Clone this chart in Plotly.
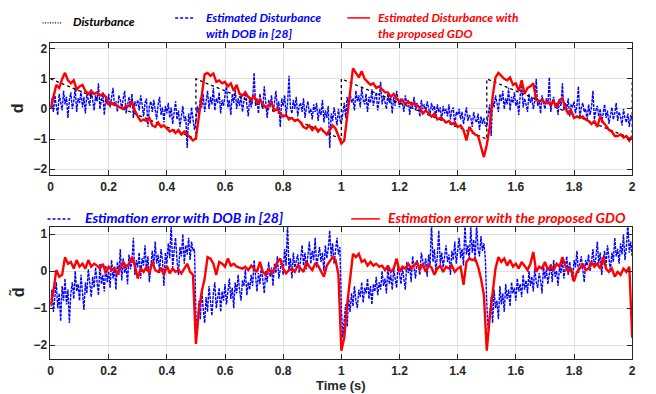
import plotly.graph_objects as go

# ---------------- data ----------------
dist_t = [0, 0.5, 0.5, 1.0, 1.0, 1.5, 1.5, 2.0, 2.0]
dist_v = [1, -1, 1, -1, 1, -1, 1, -1, 1]

# proposed GDO estimate (step 0.01 s)
gdo_est = [
    0.0, 0.4, 0.8, 0.7, 1.0, 1.2, 0.95, 0.85, 0.95, 0.65, 0.75, 0.8, 0.6, 0.5, 0.6, 0.5, 0.55, 0.45, 0.5, 0.4,
    0.15, 0.2, 0.15, 0.1, 0.05, 0.0, 0.1, 0.1, 0.25, -0.05, -0.25, -0.4, -0.35, -0.4, -0.3, -0.55, -0.6, -0.45, -0.6, -0.55,
    -0.65, -0.75, -0.7, -0.8, -0.7, -0.85, -0.75, -0.85, -0.92, -1.05,
    -0.98, -0.25, 0.5, 1.15, 1.2, 1.1, 1.18, 0.9, 0.95, 0.85, 0.9, 0.75, 0.85, 0.6, 0.8, 0.5, 0.45, 0.55, 0.4, 0.3,
    0.45, 0.2, 0.3, 0.15, 0.05, 0.1, 0.2, -0.05, 0.0, -0.15, -0.25, -0.2, -0.35, -0.3, -0.4, -0.35, -0.45, -0.6, -0.65, -0.55,
    -0.7, -0.6, -0.75, -0.65, -0.75, -0.85, -0.7, -0.55, -0.65, -0.9,
    -1.15, -1.05, -0.25, 0.5, 1.35, 1.2, 1.05, 1.25, 1.0, 0.9, 0.8, 0.85, 0.7, 0.75, 0.65, 0.55, 0.55, 0.4, 0.5, 0.35,
    0.25, 0.3, 0.15, 0.25, 0.15, 0.2, 0.1, 0.05, -0.15, -0.05, -0.15, -0.25, -0.15, -0.35, -0.3, -0.35, -0.45, -0.4, -0.5, -0.45,
    -0.6, -0.55, -0.7, -1.05, -0.6, -0.75, -0.85, -0.9, -1.25, -1.6,
    -1.2, -0.6, 0.4, 1.05, 1.2, 1.1, 1.0, 0.95, 1.05, 0.8, 0.85, 0.6, 0.95, 0.5, 0.7, 0.75, 0.85, 0.3, 0.25, 0.3,
    0.2, 0.25, 0.15, 0.25, 0.05, 0.3, 0.35, 0.05, -0.15, -0.05, -0.3, -0.25, -0.3, -0.25, -0.35, -0.4, -0.5, -0.4, -0.6, -0.25,
    -0.45, -0.55, -0.7, -0.75, -0.9, -0.9, -0.85, -0.95, -0.9, -1.05,
    -0.9,
]

# proposed GDO estimation error (step 0.01 s)
gdo_err = [
    -0.95, -0.55, 0.03, -0.15, -0.1, 0.38, 0.2, 0.25, 0.07, 0.3, 0.12, 0.2, 0.07, 0.3, 0.12, 0.2, 0.15, 0.07, 0.2, -0.06,
    0.12, 0.03, 0.09, -0.1, 0.07, 0.25, 0.12, 0.2, 0.38, 0.15, -0.2, 0.07, -0.02, 0.12, -0.06, 0.25, 0.03, -0.02, 0.07, -0.1,
    0.15, -0.06, 0.07, -0.02, 0.03, -0.06, 0.07, 0.2, -0.02, -0.1,
    -1.97, -1.08, -0.55, -0.2, 0.38, 0.34, 0.2, -0.1, 0.25, 0.2, 0.12, 0.34, 0.15, 0.2, 0.12, 0.1, 0.07, 0.12, 0.03, 0.15,
    0.07, -0.02, 0.25, -0.02, -0.1, 0.07, -0.06, 0.07, 0.25, 0.34, 0.07, -0.06, 0.03, 0.07, -0.02, 0.15, 0.07, -0.02, 0.25, 0.12,
    0.03, 0.2, 0.15, -0.02, -0.15, 0.15, 0.25, 0.38, 0.3, -0.1,
    -2.15, -1.8, -0.9, -0.28, 0.47, 0.38, 0.47, 0.25, 0.3, 0.15, 0.25, 0.15, 0.2, 0.12, 0.15, 0.03, 0.15, -0.02, 0.07, 0.34,
    -0.02, 0.12, 0.07, 0.2, 0.07, 0.15, 0.25, 0.03, 0.2, -0.02, 0.15, 0.1, -0.1, 0.07, 0.15, -0.02, 0.12, 0.07, 0.15, -0.02,
    0.07, 0.12, -0.37, 0.25, 0.34, 0.3, 0.34, 0.12, -0.2, -0.64,
    -2.15, -1.26, -0.55, 0.07, 0.38, 0.25, 0.34, 0.15, 0.3, 0.12, 0.2, 0.07, 0.25, 0.15, 0.03, 0.2, 0.52, -0.02, 0.12, 0.07,
    0.25, 0.03, 0.15, 0.03, 0.2, 0.12, 0.38, 0.15, -0.02, 0.07, -0.28, -0.02, 0.07, 0.2, 0.03, 0.07, 0.25, 0.12, 0.2, 0.07,
    0.38, 0.07, -0.02, 0.07, -0.15, -0.02, -0.1, 0.07, -0.02, 0.12,
    -1.8,
]

# DOB [28] estimate (step 0.005 s)
dob_est = [
    0.05, 0.35, -0.1, 0.45, 0.1, -0.2, 0.5, 0.2, -0.05, 0.6, 0.15, 0.4, -0.3, 0.3, 0.55, 0.0, 0.25, 0.7, -0.1, 0.35,
    0.2, 0.6, 0.05, 0.4, -0.15, 0.5, 0.3, 0.1, 0.65, 0.2, -0.05, 0.45, 0.25, 0.85, 0.0, 0.3, 0.55, -0.2, 0.35, 0.15,
    0.5, 0.05, 0.4, 0.7, 0.1, 0.25, -0.1, 0.45, 0.3, 0.0, 0.35, 0.6, -0.15, 0.2, 0.4, 0.05, 0.5, -0.3, 0.25, 0.1,
    0.3, -0.05, 0.45, 0.15, -0.25, 0.2, 0.35, -0.6, 0.1, 0.25, -0.1, 0.3, 0.0, -0.35, 0.15, 0.4, -0.2, 0.05, -0.45, 0.1,
    -0.15, 0.2, -0.3, 0.05, -0.5, -0.1, 0.25, -0.35, -0.05, -0.6, -0.2, 0.1, -0.4, -0.25, -1.3, -0.15, -0.5, 0.05, -0.35, -0.7,
    -0.4, 0.1, -0.2, 0.35, 0.05, 0.5, -0.1, 0.3, 0.6, 0.0, 0.4, 0.15, 0.7, -0.05, 0.35, 0.2, 0.55, -0.15, 0.3, 0.1,
    0.45, 0.8, 0.05, 0.3, -0.2, 0.5, 0.2, 0.65, 0.0, 0.35, 0.1, 0.45, -0.1, 0.25, 0.6, 0.15, -0.25, 0.4, 0.05, 0.3,
    1.2, 0.1, 0.35, -0.15, 0.5, 0.2, 0.0, 0.75, 0.15, -0.3, 0.3, 0.05, 0.45, -0.1, 0.2, 0.6, 0.0, 0.25, -0.6, 0.35,
    0.1, 0.45, -0.2, 0.15, 1.1, 0.05, -0.15, 0.3, 0.0, 0.4, -0.25, 0.1, 0.2, -0.1, 0.35, -0.3, 0.05, 0.25, -0.15, 0.0,
    -0.35, 0.15, -0.1, 0.2, -0.4, 0.0, -0.2, 0.3, -0.45, -0.05, -0.3, 0.1, -1.3, -0.15, -0.4, 0.05, -0.25, -0.55, 0.0, -0.35,
    -0.5, -0.1, 0.2, -0.3, 0.4, 0.1, 0.55, 0.2, 0.35, -0.05, 0.6, 0.25, 0.45, 0.05, 0.7, 0.3, 0.15, 0.5, -0.1, 0.4,
    0.2, 0.65, 0.1, 0.35, 0.55, -0.05, 0.3, 0.9, 0.15, 0.45, 0.25, 0.0, 0.5, 0.2, 0.35, -0.15, 0.4, 0.1, 0.6, 0.25,
    0.05, 0.35, 0.2, -0.1, 0.45, 0.15, 0.3, -0.2, 0.25, 0.05, 0.4, -0.05, 0.2, 0.1, -0.25, 0.3, 0.0, 0.15, -0.1, 0.25,
    0.05, -0.2, 0.2, -0.05, 0.1, -0.3, 0.15, -0.1, 0.05, -0.4, 0.1, -0.15, 0.0, -0.25, 0.15, -0.35, -0.05, 0.05, -0.6, -0.1,
    -0.2, 0.0, -0.35, -0.1, -0.5, -0.15, 0.05, -0.4, -0.2, -0.3, -0.6, -0.1, -0.35, -0.45, -0.15, -0.7, -0.25, -0.5, -0.3, -0.55,
    -0.6, -0.2, 0.15, -0.9, 0.3, 0.05, 0.45, 0.2, -0.1, 0.5, 0.25, 0.6, 0.0, 0.35, 0.15, 0.7, -0.05, 0.4, 0.2, 0.55,
    0.1, 0.3, -0.2, 0.45, 0.8, 0.05, 0.35, 0.15, -0.1, 0.5, 0.2, 0.4, 0.0, 0.25, 1.0, 0.1, 0.3, -0.15, 0.45, 0.2,
    0.0, 0.35, 0.15, 1.05, -0.1, 0.25, 0.4, 0.05, 0.2, -0.2, 0.3, 0.1, 0.85, -0.05, 0.2, 0.0, 0.35, -0.25, 0.15, 0.05,
    0.25, -0.15, 0.1, 0.75, -0.3, 0.05, 0.2, -0.1, 0.0, -0.4, 0.15, -0.2, 0.05, 0.6, -0.35, -0.05, 0.1, -0.25, 0.0, -0.45,
    -0.1, 0.15, -0.3, -0.05, -0.5, -0.2, 0.05, -0.35, -0.15, 0.2, -0.4, -0.1, -0.25, -0.55, 0.0, -0.3, -0.45, -0.15, -0.6, -0.2,
    -0.35,
]

# DOB [28] estimation error (step 0.005 s)
dob_err = [
    -0.9, -0.5, -1.1, -0.7, -0.3, -1.0, -0.6, -1.35, -0.4, -0.8, -0.2, -0.9, -0.5, -1.4, -0.6, -0.3, -0.75, 0.0, -0.55, -0.35,
    -0.8, -0.1, -0.5, -1.05, -0.3, -0.6, 0.05, -0.4, -0.7, -0.15, -0.45, 0.1, -0.25, -0.65, 0.2, -0.35, -0.1, -0.55, 0.15, -0.3,
    0.0, -0.45, 0.3, -0.2, 0.1, -0.5, 0.25, -0.1, 0.6, -0.25, 0.35, -0.05, 0.15, -0.35, 0.45, 0.05, 0.25, 0.9, -0.1, 0.3,
    0.1, 0.5, -0.2, 0.35, 0.15, 0.7, 0.0, 0.4, -0.3, 0.25, 0.55, 0.1, 0.8, 0.2, 0.45, -0.05, 0.6, 0.3, -0.4, 0.5,
    0.2, 0.75, 0.35, 1.3, 0.1, 0.55, 0.9, 0.3, -0.1, 0.65, 0.4, 1.0, 0.2, 0.7, 0.45, 0.9, 0.3, 0.8, 0.55, 0.6,
    -1.2, -1.6, -0.8, -1.3, -0.5, -1.0, -1.4, -0.7, -1.1, -0.4, -0.9, -1.2, -0.6, -0.3, -1.0, -0.7, -0.45, -1.1, -0.55, -0.8,
    -0.35, -0.9, -0.6, -0.2, -0.75, -0.45, -1.0, -0.3, -0.6, -0.1, -0.5, -0.8, -0.25, -0.4, 0.05, -0.65, -0.3, -0.5, -0.1, -0.4,
    0.3, -0.2, -0.55, -0.05, -0.35, 0.15, -0.25, -0.6, 0.0, -0.3, 0.25, -0.15, 0.1, -0.4, 0.2, -0.05, 0.4, -0.2, 0.05, 0.3,
    -0.1, 0.6, 0.15, 1.3, 0.0, 0.35, -0.2, 0.5, 0.1, 0.25, 0.45, -0.05, 0.3, 0.7, 0.15, 0.5, 0.05, 0.4, 0.8, 0.2,
    0.55, 0.3, 0.9, 0.1, 0.45, 0.65, 0.25, 0.5, 0.0, 0.7, 0.35, 0.6, 1.1, 0.4, 0.75, 0.2, 0.55, 0.9, 0.45, 0.65,
    -1.0, -1.8, -1.3, -0.9, -1.5, -0.7, -1.1, -0.6, -0.95, -0.4, -0.8, -1.0, -0.5, -0.7, -0.3, -0.85, -0.45, -0.6, -0.2, -0.75,
    -0.4, -0.9, -0.35, -0.55, -0.15, -0.65, -0.3, -0.5, 0.0, -0.4, -0.2, -0.6, 0.1, -0.35, -0.1, -0.5, 0.05, -0.25, -0.45, 0.2,
    -0.15, -0.35, 0.1, -0.2, -0.5, 0.25, -0.05, 0.15, -0.3, 0.4, 0.0, -0.2, 0.3, 0.1, -0.1, 0.5, 0.2, 0.05, 0.35, -0.15,
    0.45, 0.15, 1.3, 0.25, 0.6, 0.0, 0.4, 1.1, 0.2, 0.5, 0.1, 0.35, 0.7, 0.25, 0.45, -0.1, 0.55, 0.3, 0.8, 0.2,
    0.5, 0.9, 0.35, 0.6, 0.15, 1.3, 0.45, 0.7, 0.3, 1.2, 0.5, 0.85, 0.25, 1.3, 0.6, 0.4, 0.95, 0.55, 0.75, 0.35,
    -0.9, -1.6, -1.2, -0.7, -1.4, -0.5, -1.0, -0.8, -1.3, -0.4, -0.9, -0.6, -1.1, -0.35, -0.75, -0.5, -0.95, -0.3, -0.6, -0.45,
    -0.8, -0.2, -0.55, -0.35, -0.7, -0.1, -0.5, -0.25, -0.6, 0.0, -0.4, -0.15, -0.55, 0.1, -0.3, -0.45, -0.05, -0.25, -0.6, 0.15,
    -0.2, 0.05, -0.35, -0.1, 0.2, -0.3, 0.3, -0.15, 0.0, -0.4, 0.1, -0.05, 0.35, -0.2, 0.15, 0.4, -0.1, 0.25, 0.0, -0.25,
    0.3, 0.1, 0.55, -0.05, 0.2, 0.4, 0.05, -0.3, 0.3, 0.15, 0.45, 0.0, 0.25, 0.6, 0.1, 0.35, 0.8, 0.2, 0.5, -0.1,
    0.3, 0.55, 0.15, 0.7, 0.35, 0.0, 0.5, 0.25, 0.9, 0.4, 0.6, 0.2, 0.75, 0.45, 1.0, 0.3, 0.65, 1.3, 0.5, 0.8,
    0.4,
]

t_coarse = [i * 0.01 for i in range(len(gdo_est))]
t_fine = [i * 0.005 for i in range(len(dob_est))]

x_ticks = [0, 0.2, 0.4, 0.6, 0.8, 1.0, 1.2, 1.4, 1.6, 1.8, 2.0]
x_tick_text = ["0", "0.2", "0.4", "0.6", "0.8", "1", "1.2", "1.4", "1.6", "1.8", "2"]
y1_ticks = [-2, -1, 0, 1, 2]
y2_ticks = [-2, -1, 0, 1]

legend_top = ["Disturbance", "Estimated Disturbance<br>with DOB in [28]",
              "Estimated Disturbance with<br>the proposed GDO"]
legend_bottom = ["Estimation error with DOB in [28]", "Estimation error with the proposed GDO"]

BLUE = "rgb(0,0,255)"
RED = "rgb(255,0,0)"
BLUE_DASH = "3px,1px"

fig = go.Figure()
fig.add_trace(go.Scatter(x=t_fine, y=dob_est, mode="lines", xaxis="x", yaxis="y",
                         line=dict(color=BLUE, width=1.4, dash=BLUE_DASH)))
fig.add_trace(go.Scatter(x=dist_t, y=dist_v, mode="lines", xaxis="x", yaxis="y",
                         line=dict(color="black", width=1.3, dash="dot")))
fig.add_trace(go.Scatter(x=t_coarse, y=gdo_est, mode="lines", xaxis="x", yaxis="y",
                         line=dict(color=RED, width=2.4)))
fig.add_trace(go.Scatter(x=t_fine, y=dob_err, mode="lines", xaxis="x2", yaxis="y2",
                         line=dict(color=BLUE, width=1.4, dash=BLUE_DASH)))
fig.add_trace(go.Scatter(x=t_coarse, y=gdo_err, mode="lines", xaxis="x2", yaxis="y2",
                         line=dict(color=RED, width=2.4)))

W, H = 656, 394
xdom = [48 / W, 636 / W]
tickfont = dict(family="Liberation Sans", size=12, color="#262626", weight="bold")
axis_common = dict(showline=True, linecolor="#262626", linewidth=1, mirror="allticks",
                   ticks="inside", ticklen=5, tickcolor="#262626",
                   showgrid=True, gridcolor="#e0e0e0", gridwidth=1, zeroline=False,
                   tickfont=tickfont)

fig.update_layout(
    width=W, height=H, margin=dict(l=0, r=0, t=0, b=0),
    paper_bgcolor="white", plot_bgcolor="white", showlegend=False,
    xaxis=dict(domain=xdom, range=[0, 2], anchor="y", tickvals=x_ticks, ticktext=x_tick_text, **axis_common),
    yaxis=dict(domain=[(H - 175) / H, (H - 42) / H], range=[-2.2, 2.2], anchor="x",
               tickvals=y1_ticks, **axis_common),
    xaxis2=dict(domain=xdom, range=[0, 2], anchor="y2", tickvals=x_ticks, ticktext=x_tick_text, **axis_common),
    yaxis2=dict(domain=[(H - 360) / H, (H - 227.3) / H], range=[-2.38, 1.19], anchor="x2",
                tickvals=y2_ticks, **axis_common),
)

def px(x):
    return x / W

def py(y):
    return 1 - y / H

shapes = []
ann = []
lfont_top = dict(family="Lato", size=12, weight="bold", style="italic")
lfont_bot = dict(family="Lato", size=14, weight="bold", style="italic")

# top legend
shapes.append(dict(type="line", xref="paper", yref="paper", x0=px(40), x1=px(60), y0=py(22), y1=py(22),
                   line=dict(color="black", width=1.2, dash="1px,1.5px")))
ann.append(dict(text=legend_top[0], x=px(69), y=py(21), xanchor="left", yanchor="middle",
                font=dict(color="black", **lfont_top)))
shapes.append(dict(type="line", xref="paper", yref="paper", x0=px(174), x1=px(193), y0=py(17), y1=py(17),
                   line=dict(color=BLUE, width=1.5, dash="3px,2px")))
ann.append(dict(text=legend_top[1], x=px(203), y=py(25), xanchor="left", yanchor="middle", align="left",
                font=dict(color=BLUE, **lfont_top)))
shapes.append(dict(type="line", xref="paper", yref="paper", x0=px(348), x1=px(371), y0=py(17), y1=py(17),
                   line=dict(color=RED, width=1.5)))
ann.append(dict(text=legend_top[2], x=px(377), y=py(25), xanchor="left", yanchor="middle", align="left",
                font=dict(color=RED, **lfont_top)))

# bottom legend
shapes.append(dict(type="line", xref="paper", yref="paper", x0=px(45), x1=px(68), y0=py(219), y1=py(219),
                   line=dict(color=BLUE, width=1.5, dash="3px,2px")))
ann.append(dict(text=legend_bottom[0], x=px(81), y=py(218), xanchor="left", yanchor="middle",
                font=dict(color=BLUE, **lfont_bot)))
shapes.append(dict(type="line", xref="paper", yref="paper", x0=px(352), x1=px(381), y0=py(219), y1=py(219),
                   line=dict(color=RED, width=1.5)))
ann.append(dict(text=legend_bottom[1], x=px(387), y=py(218), xanchor="left", yanchor="middle",
                font=dict(color=RED, **lfont_bot)))

# axis labels
labfont = dict(family="Liberation Sans", size=16, color="#262626", weight="bold")
ann.append(dict(text="d", x=px(15), y=py(108), xanchor="center", yanchor="middle", textangle=-90, font=labfont))
ann.append(dict(text="d\u0303", x=px(15), y=py(293), xanchor="center", yanchor="middle", textangle=-90, font=labfont))
ann.append(dict(text="Time (s)", x=px(342), y=py(386), xanchor="center", yanchor="middle",
                font=dict(family="Liberation Sans", size=13, color="#262626", weight="bold")))

for a in ann:
    a.update(xref="paper", yref="paper", showarrow=False)

fig.update_layout(shapes=shapes, annotations=ann)
fig.write_html("out.html")
